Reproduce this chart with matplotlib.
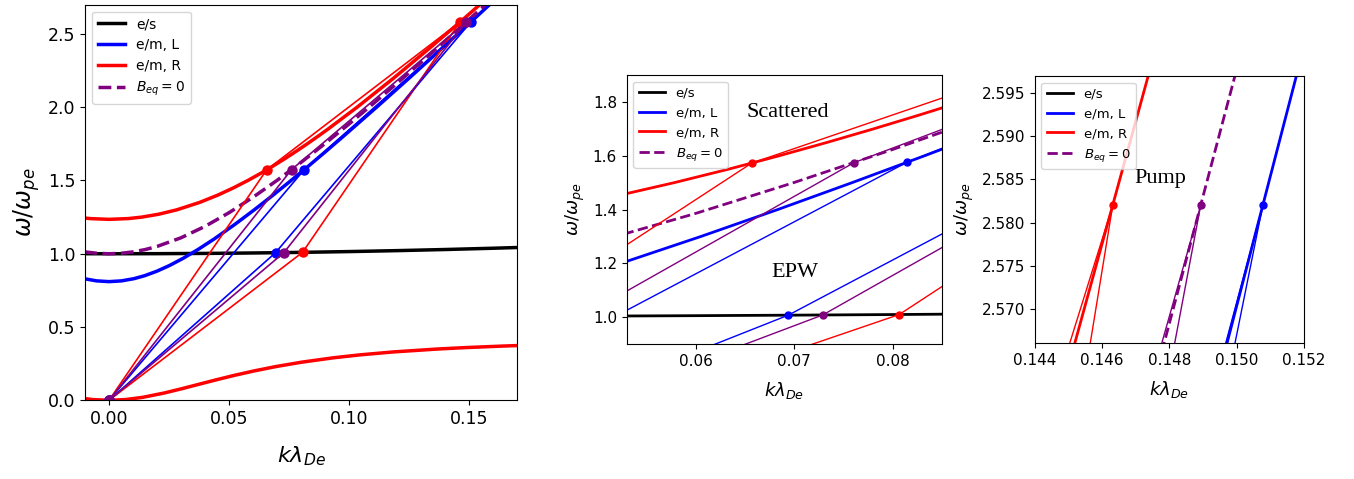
import numpy as np
import matplotlib
matplotlib.use("Agg")
import matplotlib.pyplot as plt

# ---- dispersion curves (k lambda_De , omega/omega_pe) ----
# electrostatic (EPW) branch
k_es = [0.0, 0.02, 0.04, 0.05, 0.06, 0.07, 0.08, 0.10, 0.12, 0.14, 0.16, 0.18]
w_es = [1.0, 1.000600, 1.002397, 1.003743, 1.005385, 1.007323, 1.009554,
        1.014889, 1.021372, 1.028980, 1.037690, 1.047473]

# unmagnetised light wave
k_b0 = [0.0, 0.005, 0.01, 0.015, 0.02, 0.03, 0.04, 0.05, 0.06, 0.07, 0.08, 0.09,
        0.10, 0.11, 0.12, 0.13, 0.14, 0.147, 0.15, 0.16, 0.17]
w_b0 = [1.0, 1.003188, 1.012694, 1.028341, 1.049855, 1.109027, 1.186922, 1.280127,
        1.385556, 1.500634, 1.623310, 1.751990, 1.885444, 2.022728, 2.163112,
        2.306032, 2.451041, 2.553582, 2.597793, 2.746005, 2.895455]

# L mode
w_L = [0.809829, 0.815, 0.83, 0.85, 0.88, 0.92, 0.97, 1.03, 1.10, 1.20, 1.30, 1.40,
       1.50, 1.60, 1.70, 1.80, 2.0, 2.2, 2.4, 2.55, 2.60, 2.8, 3.0]
k_L = [0.0, 0.005222, 0.010383, 0.014783, 0.019791, 0.025211, 0.031002, 0.037170,
       0.043735, 0.052401, 0.060540, 0.068330, 0.075873, 0.083231, 0.090446,
       0.097546, 0.111482, 0.125155, 0.138636, 0.148648, 0.151971, 0.165191, 0.178321]

# R mode, upper branch
w_R_up = [1.234829, 1.24, 1.25, 1.27, 1.30, 1.35, 1.40, 1.45, 1.50, 1.55, 1.60, 1.65,
          1.70, 1.75, 1.80, 1.85, 2.0, 2.2, 2.4, 2.55, 2.60, 2.8, 3.0]
k_R_up = [0.0, 0.007945, 0.013613, 0.020744, 0.028277, 0.037696, 0.045292, 0.051888,
          0.057837, 0.063331, 0.068485, 0.073376, 0.078057, 0.082567, 0.086935,
          0.091184, 0.103373, 0.118713, 0.133375, 0.144064, 0.147581, 0.161468, 0.175119]

# R mode, whistler branch
w_R_lo = [0.0, 0.005, 0.02, 0.05, 0.08, 0.11, 0.14, 0.17, 0.20, 0.23, 0.26, 0.29,
          0.31, 0.33, 0.35, 0.36, 0.37, 0.375]
k_R_lo = [0.0, 0.006833, 0.013959, 0.023058, 0.030539, 0.037606, 0.044715, 0.052178,
          0.060297, 0.069452, 0.080201, 0.093473, 0.104533, 0.118417, 0.136913,
          0.148947, 0.163911, 0.172933]

# ---- matching points: order red (R), blue (L), purple (B=0) ----
colors = ['red', 'blue', 'purple']
w_pump = 2.582
k_pump = [0.146317, 0.150775, 0.148930]
k_scat = [0.065664, 0.081392, 0.076051]
w_scat = [1.572291, 1.574805, 1.574064]
k_epw = [0.080650, 0.069385, 0.072880]
w_epw = [1.009709, 1.007195, 1.007936]


def mirror(k, w):
    k = np.asarray(k)
    w = np.asarray(w)
    return np.concatenate([-k[::-1], k[1:]]), np.concatenate([w[::-1], w[1:]])


kes, wes = mirror(k_es, w_es)
kb0, wb0 = mirror(k_b0, w_b0)
kL, wL = mirror(k_L, w_L)
kRu, wRu = mirror(k_R_up, w_R_up)
kRl, wRl = mirror(k_R_lo, w_R_lo)


def draw(ax, lw, lw_thin, ms):
    ax.plot(kes, wes, color='black', lw=lw, label='e/s')
    ax.plot(kL, wL, color='blue', lw=lw, label='e/m, L')
    ax.plot(kRu, wRu, color='red', lw=lw, label='e/m, R')
    ax.plot(kRl, wRl, color='red', lw=lw)
    ax.plot(kb0, wb0, color='purple', lw=lw, ls='--', label=r'$B_{eq}=0$')
    for i, c in enumerate(colors):
        ax.plot([0, k_scat[i], k_pump[i]], [0, w_scat[i], w_pump], color=c, lw=lw_thin)
        ax.plot([0, k_epw[i], k_pump[i]], [0, w_epw[i], w_pump], color=c, lw=lw_thin)
        ax.plot([0, k_scat[i], k_epw[i], k_pump[i]],
                [0, w_scat[i], w_epw[i], w_pump], 'o', color=c, ms=ms)


fig = plt.figure(figsize=(13.54, 4.79), dpi=100)

# left: full view
ax1 = fig.add_axes([0.0628, 0.1643, 0.319, 0.826])
draw(ax1, 2.5, 1.2, 6.5)
ax1.set_xlim(-0.01, 0.17)
ax1.set_ylim(0, 2.7)
ax1.set_xticks([0.0, 0.05, 0.10, 0.15])
ax1.tick_params(labelsize=12.5)
ax1.set_xlabel(r'$k\lambda_{De}$', fontsize=16, labelpad=12)
ax1.set_ylabel(r'$\omega/\omega_{pe}$', fontsize=17)
ax1.legend(loc='upper left', fontsize=10)

# middle: scattered wave and EPW
ax2 = fig.add_axes([0.4629, 0.2818, 0.2329, 0.5616])
draw(ax2, 2, 1, 5)
ax2.set_xlim(0.053, 0.085)
ax2.set_ylim(0.9, 1.9)
ax2.set_xticks([0.06, 0.07, 0.08])
ax2.set_yticks([1.0, 1.2, 1.4, 1.6, 1.8])
ax2.tick_params(labelsize=11)
ax2.set_xlabel(r'$k\lambda_{De}$', fontsize=13, labelpad=8)
ax2.set_ylabel(r'$\omega/\omega_{pe}$', fontsize=13)
ax2.legend(loc='upper left', fontsize=9.5)
ax2.text(0.0651, 1.744, 'Scattered', family='Liberation Serif', fontsize=16)
ax2.text(0.0677, 1.150, 'EPW', family='Liberation Serif', fontsize=16)

# right: pump
ax3 = fig.add_axes([0.7642, 0.2833, 0.1989, 0.558])
draw(ax3, 2, 1, 5)
ax3.set_xlim(0.144, 0.152)
ax3.set_ylim(2.566, 2.597)
ax3.set_xticks([0.144, 0.146, 0.148, 0.150, 0.152])
ax3.set_yticks([2.570, 2.575, 2.580, 2.585, 2.590, 2.595])
ax3.yaxis.set_major_formatter(matplotlib.ticker.FormatStrFormatter('%.3f'))
ax3.tick_params(labelsize=11)
ax3.set_xlabel(r'$k\lambda_{De}$', fontsize=13, labelpad=8)
ax3.set_ylabel(r'$\omega/\omega_{pe}$', fontsize=13)
ax3.legend(loc='upper left', fontsize=9.5)
ax3.text(0.14696, 2.5846, 'Pump', family='Liberation Serif', fontsize=16)

fig.savefig('out.png', dpi=100)
